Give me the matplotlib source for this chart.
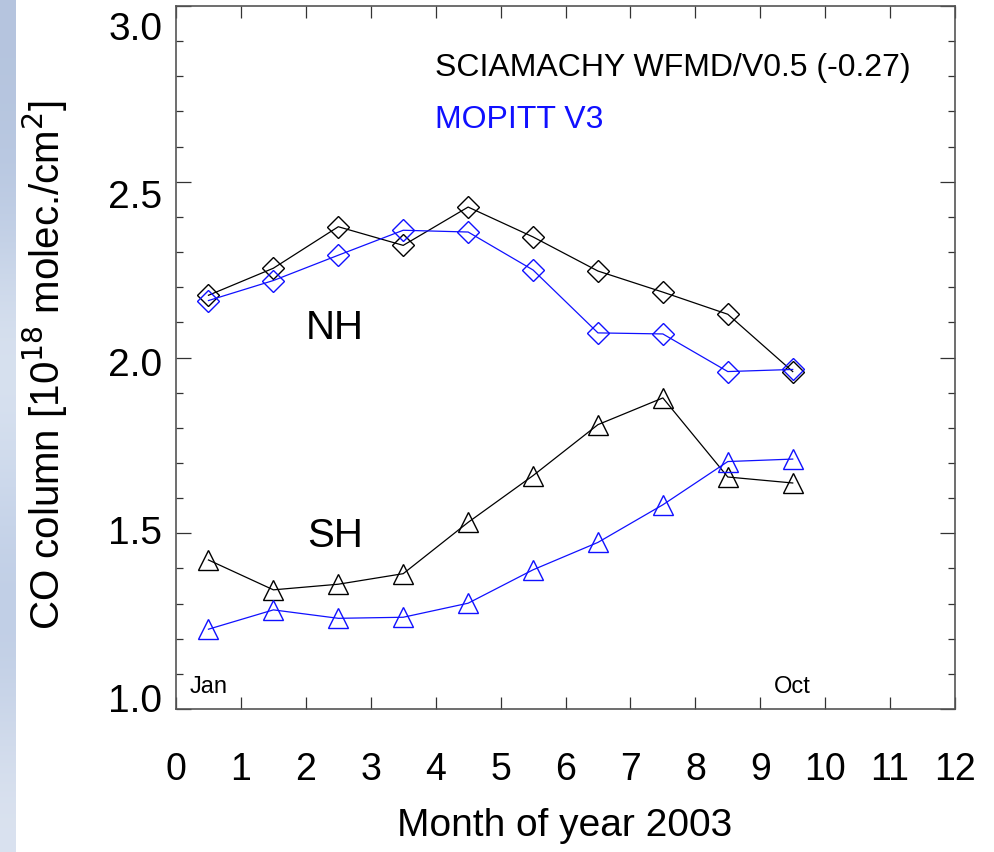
import numpy as np
import matplotlib
matplotlib.use('Agg')
import matplotlib.pyplot as plt
from matplotlib.ticker import MultipleLocator

# monthly means, plotted at mid-month
months = [0.5, 1.5, 2.5, 3.5, 4.5, 5.5, 6.5, 7.5, 8.5, 9.5]
nh_sciamachy = [2.177, 2.254, 2.372, 2.319, 2.428, 2.343, 2.246, 2.186, 2.123, 1.960]
nh_mopitt = [2.162, 2.219, 2.291, 2.362, 2.357, 2.249, 2.070, 2.067, 1.960, 1.966]
sh_sciamachy = [1.424, 1.339, 1.355, 1.385, 1.531, 1.664, 1.809, 1.885, 1.660, 1.643]
sh_mopitt = [1.227, 1.282, 1.258, 1.261, 1.301, 1.396, 1.474, 1.581, 1.704, 1.711]

x_ticks = list(range(0, 13))
y_ticks = [1.0, 1.5, 2.0, 2.5, 3.0]

regular = ['Liberation Sans', 'DejaVu Sans']

W, H = 994, 853
fig = plt.figure(figsize=(W / 100, H / 100), dpi=100)
fig.patch.set_facecolor('white')

# bluish slide strip on the left edge
strip = fig.add_axes([0, 0, 16 / W, 1])
shade = np.array([[0.71, 0.77, 0.87], [0.73, 0.79, 0.89], [0.88, 0.91, 0.95],
                  [0.79, 0.84, 0.92], [0.73, 0.79, 0.89], [0.86, 0.89, 0.94]])
strip.imshow(shade[:, None, :], aspect='auto', interpolation='bicubic')
strip.axis('off')

left, right, bottom, top = 176 / W, 955 / W, 1 - 710 / H, 1 - 7 / H
ax = fig.add_axes([left, bottom, right - left, top - bottom])

blue = '#1010ff'
ax.plot(months, nh_sciamachy, color='black', lw=0.9, marker='D', ms=11,
        mfc='none', mec='black', mew=1.0)
ax.plot(months, nh_mopitt, color=blue, lw=0.9, marker='D', ms=11,
        mfc='none', mec=blue, mew=1.0)
ax.plot(months, sh_sciamachy, color='black', lw=0.9, marker='^', ms=14,
        mfc='none', mec='black', mew=1.0)
ax.plot(months, sh_mopitt, color=blue, lw=0.9, marker='^', ms=14,
        mfc='none', mec=blue, mew=1.0)

ax.set_xlim(0, 12)
ax.set_ylim(1.0, 3.0)
ax.set_xticks(x_ticks)
ax.set_xticklabels([str(t) for t in x_ticks], family=regular, fontsize=27)
ax.yaxis.set_major_locator(MultipleLocator(0.5))
ax.yaxis.set_minor_locator(MultipleLocator(0.1))
ax.set_yticklabels([])
ax.tick_params(axis='x', direction='in', length=8.5, width=0.9, top=True,
               pad=30, color='#333333')
ax.tick_params(axis='y', which='major', direction='in', length=11, width=0.9,
               right=True, color='#333333')
ax.tick_params(axis='y', which='minor', direction='in', length=5, width=0.9,
               right=True, color='#333333')
for s in ax.spines.values():
    s.set_color('#555555')
    s.set_linewidth(1.2)

# y tick labels sit slightly off the ticks in the original, so they live on
# an overlay axis with its own scale
lab = fig.add_axes([left, bottom, right - left, top - bottom], frameon=False)
lab.set_ylim(1.0 - 12 / 335.5, 3.0 + 19 / 335.5)
lab.set_xticks([])
lab.set_yticks(y_ticks)
lab.set_yticklabels(['%.1f' % t for t in y_ticks], family=regular, fontsize=28)
lab.tick_params(axis='y', length=0, pad=10)
lab.patch.set_alpha(0)

ax.text(0.3325, 0.913, 'SCIAMACHY WFMD/V0.5 (-0.27)', transform=ax.transAxes,
        family=regular, fontsize=23, va='center', ha='left', color='black')
ax.text(0.3325, 0.839, 'MOPITT V3', transform=ax.transAxes,
        family=regular, fontsize=23, va='center', ha='left', color=blue)

ax.text(2.45, 2.088, 'NH', family=regular, fontsize=29, ha='center', va='center')
ax.text(2.45, 1.496, 'SH', family=regular, fontsize=29, ha='center', va='center')
ax.text(0.5, 1.066, 'Jan', family=regular, fontsize=17, ha='center', va='center')
ax.text(9.5, 1.066, 'Oct', family=regular, fontsize=17, ha='center', va='center')

fig.text(565 / W, 1 - 826 / H, 'Month of year 2003', family=regular, fontsize=28,
         ha='center', va='center')
fig.text(45 / W, 1 - 365 / H, r'CO column [10$^{18}$ molec./cm$^{2}$]',
         family=regular, fontsize=29, ha='center', va='center', rotation=90)

fig.savefig('out.png', dpi=100)
